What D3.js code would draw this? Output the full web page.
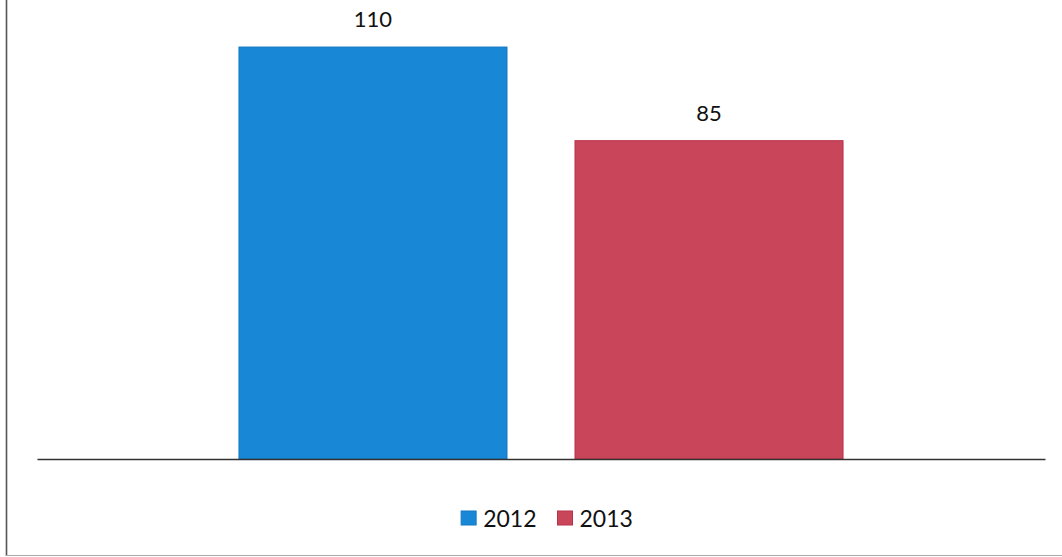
<!DOCTYPE html>
<html>
<head>
<meta charset="utf-8">
<script src="https://cdn.jsdelivr.net/npm/d3@7"></script>
<style>
  html, body { margin: 0; padding: 0; background: #fff; }
  svg { display: block; }
  text { font-family: Lato, "Open Sans", sans-serif; fill: #111; }
</style>
</head>
<body>
<svg id="chart" width="1062" height="557"></svg>
<script>
const categories = [""];
const seriesNames = ["2012", "2013"];
const seriesValues = [110, 85];
const seriesColors = ["#1787d6", "#c9465a"];
const seriesStrokes = ["#1479c4", "#b8324a"];

const W = 1062, H = 557;
const svg = d3.select("#chart");

// frame (left and bottom edges of the scanned chart box)
svg.append("line").attr("x1", 6.5).attr("x2", 6.5).attr("y1", 0).attr("y2", 556)
  .attr("stroke", "#555").attr("stroke-width", 1.6);
svg.append("line").attr("x1", 6).attr("x2", W).attr("y1", 555.5).attr("y2", 555.5)
  .attr("stroke", "#aaa").attr("stroke-width", 1.2);

const x0 = d3.scaleBand().domain(categories).range([37, 1045]).padding(0);
const x1 = d3.scaleBand().domain(seriesNames).range([0, x0.bandwidth()])
  .paddingInner(0.2024).paddingOuter(0.601);
const y = d3.scaleLinear().domain([0, 120]).range([459, 9.6]);

const data = seriesNames.map((s, i) => ({ cat: categories[0], series: s, value: seriesValues[i], color: seriesColors[i], stroke: seriesStrokes[i] }));

const g = svg.append("g");
g.selectAll("rect.bar").data(data).enter().append("rect")
  .attr("class", "bar")
  .attr("x", d => x0(d.cat) + x1(d.series))
  .attr("y", d => y(d.value))
  .attr("width", x1.bandwidth())
  .attr("height", d => y(0) - y(d.value))
  .attr("fill", d => d.color)
  .attr("stroke", d => d.stroke)
  .attr("stroke-width", 1);

g.selectAll("text.lbl").data(data).enter().append("text")
  .attr("class", "lbl")
  .attr("x", d => x0(d.cat) + x1(d.series) + x1.bandwidth() / 2)
  .attr("y", d => y(d.value) - 20)
  .attr("text-anchor", "middle")
  .style("font-size", "22px")
  .text(d => d.value);

// baseline axis
const xAxis = d3.axisBottom(x0).tickSize(0).tickFormat("");
const ax = svg.append("g").attr("transform", `translate(0,${y(0)})`).call(xAxis);
ax.select(".domain").attr("stroke", "#333").attr("stroke-width", 1.5);

// legend
const legend = svg.append("g");
const items = legend.selectAll("g").data(data).enter().append("g");
items.append("rect").attr("width", 15).attr("height", 14).attr("y", 511)
  .attr("fill", d => d.color).attr("stroke", d => d.stroke).attr("stroke-width", 1);
items.append("text").attr("x", 22).attr("y", 527).style("font-size", "23px").text(d => d.series);
let cx = 0;
items.each(function(d) {
  const tw = d3.select(this).select("text").node().getComputedTextLength();
  d3.select(this).attr("transform", `translate(${cx},0)`);
  d.w = 22 + tw;
  cx += 22 + tw + 21;
});
const totalW = cx - 21;
legend.attr("transform", `translate(${547 - totalW / 2},0)`);
</script>
</body>
</html>
